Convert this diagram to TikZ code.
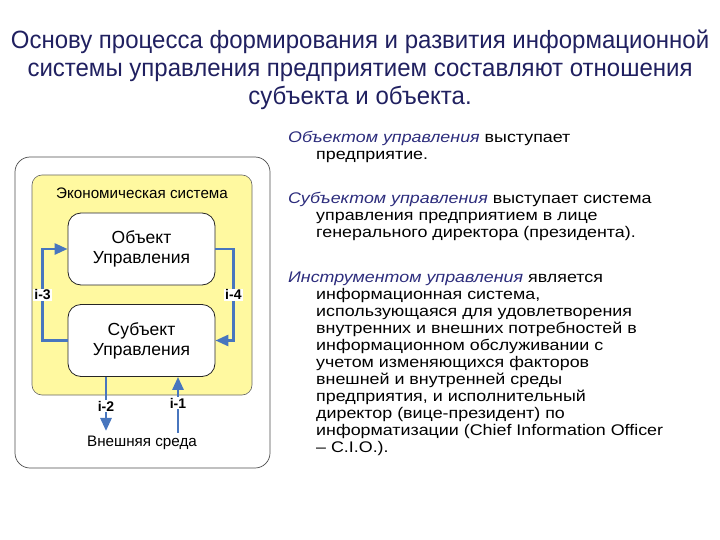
\documentclass[tikz,border=0pt]{standalone}
\usepackage{fontspec}
\setmainfont{Liberation Sans}
\newfontfamily\titlefont[FakeStretch=0.96]{Liberation Sans}
\newfontfamily\parafont[FakeStretch=1.16]{Liberation Sans}
\usetikzlibrary{arrows.meta,positioning,calc}
\definecolor{titleblue}{RGB}{32,32,96}
\definecolor{termblue}{RGB}{44,44,124}
\definecolor{flowblue}{RGB}{72,118,190}
\definecolor{sysyellow}{RGB}{255,249,160}

\begin{document}
\begin{tikzpicture}[
  x=1pt, y=-1pt,
  >={Triangle[length=13pt,width=11pt]},
  frame/.style={draw=black!70, line width=0.7pt, rounded corners=15pt},
  sysbox/.style={rectangle, rounded corners=10pt, draw=black!60,
    fill=sysyellow, line width=0.6pt, minimum width=220pt, minimum height=220pt},
  box/.style={rectangle, rounded corners=13pt, draw=black!85, fill=white,
    line width=0.8pt, minimum width=147pt, minimum height=72pt,
    align=center, font=\fontsize{17.5}{20}\selectfont},
  flow/.style={draw=flowblue, line width=2.7pt, ->},
  lbl/.style={fill=white, inner sep=1pt, text=black,
    font=\bfseries\fontsize{14}{14}\selectfont},
  para/.style={anchor=north west, align=left, inner sep=0pt,
    font=\parafont\fontsize{15.4}{17}\selectfont},
]
  \useasboundingbox (0,0) rectangle (720,540);
  % title
  \node[align=center, text=titleblue, font=\titlefont\fontsize{25}{28}\selectfont]
    (title) at (360,69.5) {Основу процесса формирования и развития информационной\\
    системы управления предприятием составляют отношения\\
    субъекта и объекта.};

  % left scheme
  \draw[frame] (15,157) rectangle (270,468);
  \node[sysbox] (sys) at (142,285) {};
  \node[font=\fontsize{15.2}{17}\selectfont] (syslbl) at (142,193) {Экономическая система};
  \node[box] (obj) at (141.5,249) {Объект\\Управления};
  \node[box] (subj) at (141.5,340.5) {Субъект\\Управления};
  \node[font=\fontsize{15.2}{17}\selectfont, inner sep=1pt] (env) at (142,443) {Внешняя среда};
  \coordinate (i2) at (106,0);
  \coordinate (i1) at (178,0);

  \draw[flow] (subj.west) -- ++(-25,0) |- (obj.west) node[lbl, pos=0.25] {i-3};
  \draw[flow] (obj.east) -- ++(18,0) |- (subj.east) node[lbl, pos=0.25] {i-4};
  \draw[flow, shorten >=4pt] (subj.south -| i2) -- node[lbl, pos=0.5] {i-2} (env.north -| i2);
  \draw[flow, shorten <=2pt] (env.north -| i1) -- node[lbl, pos=0.55] {i-1} (subj.south -| i1);

  % right text
  \node[para] (p1) at (288,131) {\textcolor{termblue}{\itshape Объектом управления} выступает\\
    \hspace*{28pt}предприятие.};
  \node[para] (p2) at (288,192) {\textcolor{termblue}{\itshape Субъектом управления} выступает система\\
    \hspace*{28pt}управления предприятием в лице\\
    \hspace*{28pt}генерального директора (президента).};
  \node[para] (p3) at (288,272) {\textcolor{termblue}{\itshape Инструментом управления} является\\
    \hspace*{28pt}информационная система,\\
    \hspace*{28pt}использующаяся для удовлетворения\\
    \hspace*{28pt}внутренних и внешних потребностей в\\
    \hspace*{28pt}информационном обслуживании с\\
    \hspace*{28pt}учетом изменяющихся факторов\\
    \hspace*{28pt}внешней и внутренней среды\\
    \hspace*{28pt}предприятия, и исполнительный\\
    \hspace*{28pt}директор (вице-президент) по\\
    \hspace*{28pt}информатизации (Chief Information Officer\\
    \hspace*{28pt}– C.I.O.).};
\end{tikzpicture}
\end{document}
